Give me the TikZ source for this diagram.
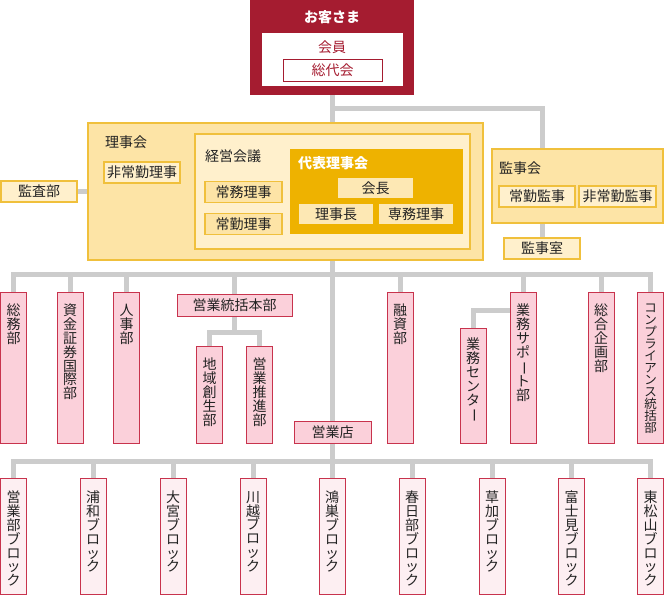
\documentclass[tikz,border=0pt]{standalone}
\usepackage{fontspec}
\setmainfont{Noto Sans CJK JP}
\usepackage{graphicx}
\definecolor{okred}{HTML}{A51C30}
\definecolor{lgray}{HTML}{CCCCCC}
\definecolor{txt}{HTML}{222222}
\definecolor{ybd}{HTML}{F0C03C}
\definecolor{yfill}{HTML}{FDE4A6}
\definecolor{ypale}{HTML}{FFF0CC}
\definecolor{gold}{HTML}{EEB200}
\definecolor{yinner}{HTML}{FDE8B4}
\definecolor{pkbd}{HTML}{C8334D}
\definecolor{pkfill}{HTML}{FBD0DA}
\definecolor{pkpale}{HTML}{FDEFF2}
\pgfdeclarelayer{bg}\pgfsetlayers{bg,main}
\tikzset{
  fnt/.style={font=\fontsize{14}{14}\selectfont},
  conn/.style={draw=lgray, line width=5pt, line cap=rect},
  ybox/.style={draw=ybd, line width=1.2pt, fill=yfill, inner sep=0pt, fnt, text=txt},
  ypbox/.style={draw=ybd, line width=1.2pt, fill=ypale, inner sep=0pt, fnt, text=txt},
  gbox/.style={fill=yinner, inner sep=0pt, fnt, text=txt},
  pkbox/.style={draw=pkbd, line width=1pt, fill=pkfill, inner sep=0pt, fnt, text=txt},
  blbox/.style={draw=pkbd, line width=1pt, fill=pkpale, inner sep=0pt, minimum width=26, minimum height=116, anchor=north},
  dept/.style={pkbox, minimum width=26, anchor=north},
  vt/.style={anchor=north, align=center, inner sep=0pt, font=\fontsize{14}{13.8}\selectfont, text=txt},
  ttl/.style={anchor=west, inner sep=0pt, fnt, text=txt},
}
\newcommand{\vbar}{\rotatebox[origin=c]{-90}{ー}}
\begin{document}
\begin{tikzpicture}[x=1pt,y=-1pt]
\useasboundingbox (0,0) rectangle (664,595);
% top
\node[fill=okred, minimum width=164, minimum height=95, inner sep=0pt] (kyaku) at (332,47.5) {};
\node[text=white, font=\fontsize{14}{14}\selectfont\bfseries, inner sep=0pt] (kyaku-t) at (332,17) {お客さま};
\node[fill=white, minimum width=141, minimum height=53, inner sep=0pt] (kaiin) at (332,59.5) {};
\node[text=okred, fnt, inner sep=0pt] (kaiin-t) at (332,47) {会員};
\node[draw=okred, line width=1pt, fill=white, text=okred, fnt, minimum width=99, minimum height=22, inner sep=0pt] (soudai) at (332.5,70) {総代会};
% board
\node[ybox, minimum width=395, minimum height=137] (board) at (285.5,191.5) {};
\node[ttl] (board-t) at (105,142) {理事会};
\node[ypbox, minimum width=76, minimum height=21] (hijoukin) at (142,172.5) {非常勤理事};
\node[ypbox, minimum width=76, minimum height=21] (kansabu) at (39,191.5) {監査部};
\node[ypbox, minimum width=275, minimum height=115] (keiei) at (332.5,191.5) {};
\node[ttl] (keiei-t) at (205,156) {経営会議};
\node[ybox, minimum width=77, minimum height=21] (joumu) at (243.5,192) {常務理事};
\node[ybox, minimum width=77, minimum height=21] (joukin) at (243.5,224) {常勤理事};
\node[fill=gold, minimum width=173, minimum height=85, inner sep=0pt] (daihyo) at (376.5,191.5) {};
\node[anchor=west, inner sep=0pt, text=white, font=\fontsize{14}{14}\selectfont\bfseries] (daihyo-t) at (298,163) {代表理事会};
\node[gbox, minimum width=75, minimum height=20] (kaichou) at (375.5,188) {会長};
\node[gbox, minimum width=74, minimum height=20] (rijichou) at (336,214) {理事長};
\node[gbox, minimum width=74, minimum height=20] (senmu) at (416,214) {専務理事};
% kanjikai
\node[ybox, minimum width=171, minimum height=74] (kanjikai) at (577.5,186) {};
\node[ttl] (kanjikai-t) at (499,168) {監事会};
\node[ypbox, minimum width=76, minimum height=21] (jkanji) at (537,196.5) {常勤監事};
\node[ypbox, minimum width=77, minimum height=21] (hjkanji) at (617.5,196.5) {非常勤監事};
\node[ypbox, minimum width=76, minimum height=21] (kanjishitsu) at (542,248.5) {監事室};
% departments
\node[dept, minimum height=151] (soumu) at (13.5,292) {};
\node[vt] (soumu-t) at ([yshift=-12pt]soumu.north) {総\\務\\部};
\node[dept, minimum height=151] (shikin) at (70,292) {};
\node[vt] (shikin-t) at ([yshift=-12pt]shikin.north) {資\\金\\証\\券\\国\\際\\部};
\node[dept, minimum height=151] (jinji) at (126.5,292) {};
\node[vt] (jinji-t) at ([yshift=-12pt]jinji.north) {人\\事\\部};
\node[pkbox, minimum width=115, minimum height=22] (toukatsu) at (234.5,305) {営業統括本部};
\node[dept, minimum height=97] (chiiki) at (209.5,346) {};
\node[vt] (chiiki-t) at ([yshift=-12pt]chiiki.north) {地\\域\\創\\生\\部};
\node[dept, minimum height=97] (suishin) at (259.5,346) {};
\node[vt] (suishin-t) at ([yshift=-12pt]suishin.north) {営\\業\\推\\進\\部};
\node[pkbox, minimum width=77, minimum height=22] (eigyouten) at (332.5,432) {営業店};
\node[dept, minimum height=151] (yuushi) at (400,292) {};
\node[vt] (yuushi-t) at ([yshift=-12pt]yuushi.north) {融\\資\\部};
\node[dept, minimum height=115] (gcenter) at (473,328) {};
\node[vt] (gcenter-t) at ([yshift=-10pt]gcenter.north) {業\\務\\セ\\ン\\タ\\\vbar};
\node[dept, minimum height=151] (support) at (523,292) {};
\node[vt] (support-t) at ([yshift=-12pt]support.north) {業\\務\\サ\\ポ\\\vbar\\ト\\部};
\node[dept, minimum height=151] (kikaku) at (601,292) {};
\node[vt] (kikaku-t) at ([yshift=-12pt]kikaku.north) {総\\合\\企\\画\\部};
\node[dept, minimum height=151] (compl) at (650.5,292) {};
\node[vt, font=\fontsize{12.5}{12}\selectfont] (compl-t) at ([yshift=-12pt]compl.north) {コ\\ン\\プ\\ラ\\イ\\ア\\ン\\ス\\統\\括\\部};
% blocks
\node[blbox] (b1) at (13.5,478) {};
\node[vt] (b1-t) at ([yshift=-13pt]b1.north) {営\\業\\部\\ブ\\ロ\\ッ\\ク};
\node[blbox] (b2) at (93,478) {};
\node[vt] (b2-t) at ([yshift=-13pt]b2.north) {浦\\和\\ブ\\ロ\\ッ\\ク};
\node[blbox] (b3) at (173,478) {};
\node[vt] (b3-t) at ([yshift=-13pt]b3.north) {大\\宮\\ブ\\ロ\\ッ\\ク};
\node[blbox] (b4) at (253,478) {};
\node[vt] (b4-t) at ([yshift=-13pt]b4.north) {川\\越\\ブ\\ロ\\ッ\\ク};
\node[blbox] (b5) at (332,478) {};
\node[vt] (b5-t) at ([yshift=-13pt]b5.north) {鴻\\巣\\ブ\\ロ\\ッ\\ク};
\node[blbox] (b6) at (412,478) {};
\node[vt] (b6-t) at ([yshift=-13pt]b6.north) {春\\日\\部\\ブ\\ロ\\ッ\\ク};
\node[blbox] (b7) at (492,478) {};
\node[vt] (b7-t) at ([yshift=-13pt]b7.north) {草\\加\\ブ\\ロ\\ッ\\ク};
\node[blbox] (b8) at (571.5,478) {};
\node[vt] (b8-t) at ([yshift=-13pt]b8.north) {富\\士\\見\\ブ\\ロ\\ッ\\ク};
\node[blbox] (b9) at (650.5,478) {};
\node[vt] (b9-t) at ([yshift=-13pt]b9.north) {東\\松\\山\\ブ\\ロ\\ッ\\ク};
% connectors
\coordinate (kb) at (0,108);
\coordinate (dl) at (0,274);
\coordinate (ts) at (0,332);
\coordinate (sc) at (0,310);
\coordinate (bl) at (0,461);
\begin{pgfonlayer}{bg}
\draw[conn] (kyaku.south) -- (kyaku.south |- bl);
\draw[conn] (kyaku.south |- kb) -- (kanjishitsu.north |- kb) -- (kanjishitsu.north);
\draw[conn] (kansabu.east) -- (board.west);
\draw[conn] (soumu.north |- dl) -- (compl.north |- dl);
\foreach \n in {soumu,shikin,jinji,toukatsu,yuushi,support,kikaku,compl}
  \draw[conn] (\n.north |- dl) -- (\n.north);
\draw[conn] (toukatsu.south) -- (toukatsu.south |- ts);
\draw[conn] (chiiki.north) -- (chiiki.north |- ts) -- (suishin.north |- ts) -- (suishin.north);
\draw[conn] (support.west |- sc) -| (gcenter.north);
\draw[conn] (b1.north |- bl) -- (b9.north |- bl);
\foreach \n in {b1,b2,b3,b4,b5,b6,b7,b8,b9}
  \draw[conn] (\n.north |- bl) -- (\n.north);
\end{pgfonlayer}
\end{tikzpicture}
\end{document}
